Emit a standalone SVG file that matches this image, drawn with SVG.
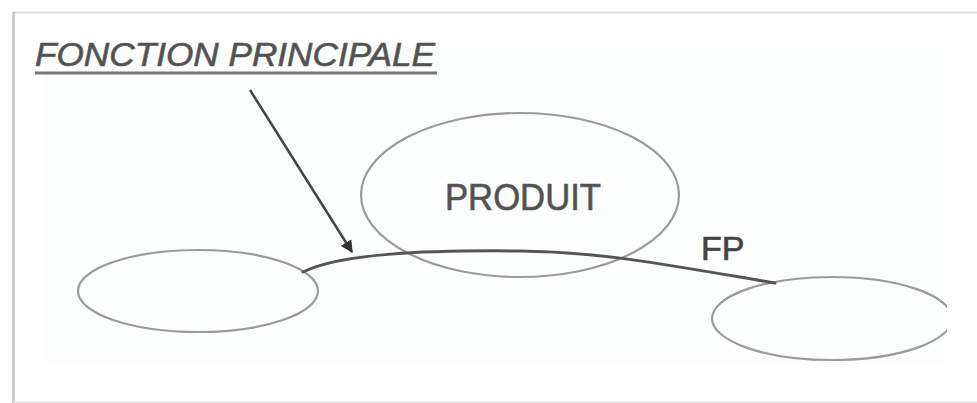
<svg xmlns="http://www.w3.org/2000/svg" width="977" height="403" viewBox="0 0 977 403">
<style>
.txt{font-family:"Liberation Sans",Arial,sans-serif;fill:#505050;stroke:#606060;stroke-width:0.7}
.node{fill:none;stroke:#9a9a9a;stroke-width:2.2}
.conn{fill:none;stroke:#555;stroke-width:3;stroke-linecap:round}
</style>
<defs>
<marker id="ah" viewBox="0 0 10 10" refX="9" refY="5" markerWidth="5" markerHeight="5" orient="auto" markerUnits="strokeWidth">
<path d="M0,0 L10,5 L0,10 z" fill="#333"/>
</marker>
<clipPath id="clipR"><rect x="0" y="0" width="947" height="403"/></clipPath>
</defs>
<rect x="0" y="0" width="977" height="403" fill="#ffffff"/>
<rect x="44" y="47" width="899" height="315" fill="#fcfdfd"/>
<line x1="13" y1="12.5" x2="977" y2="12.5" stroke="#dedede" stroke-width="2"/>
<line x1="13.5" y1="12" x2="13.5" y2="403" stroke="#c4c4c4" stroke-width="2.5"/>
<line x1="13" y1="402" x2="977" y2="402" stroke="#e4e4e4" stroke-width="1.5"/>

<g id="title">
<text class="txt" x="35" y="66" font-size="34" font-style="italic" textLength="400" lengthAdjust="spacingAndGlyphs">FONCTION PRINCIPALE</text>
<line x1="35" y1="73" x2="437" y2="73" stroke="#777" stroke-width="3"/>
</g>

<g id="produit">
<ellipse class="node" cx="520" cy="195" rx="159" ry="82"/>
<text class="txt" x="445" y="210" font-size="37" textLength="156" lengthAdjust="spacingAndGlyphs">PRODUIT</text>
</g>

<g id="milieu1">
<ellipse class="node" cx="198" cy="291" rx="120" ry="41"/>
</g>

<g id="milieu2">
<ellipse class="node" cx="832" cy="318.5" rx="120" ry="41.5" clip-path="url(#clipR)"/>
</g>

<g id="connectors">
<path class="conn" d="M303,272 C340,254 420,250 520,251 C600,252 650,262 775,283"/>
<line x1="250" y1="90" x2="352" y2="252" stroke="#444" stroke-width="2.5" marker-end="url(#ah)"/>
<text class="txt" x="701" y="260" font-size="34" style="fill:#444;stroke:#444">FP</text>
</g>
</svg>
